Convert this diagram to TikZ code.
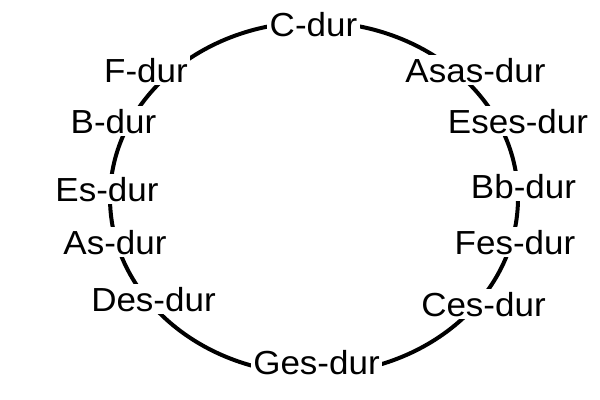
\documentclass[tikz,border=0pt]{standalone}
\usepackage{fontspec}
\setmainfont{Liberation Sans}
\usetikzlibrary{positioning}

\newcommand{\breit}[1]{\scalebox{1.05}[1]{#1}}

\tikzset{
  kreis/.style={line width=3pt},
  tonart/.style={fill=white, inner sep=2pt, anchor=base, font=\fontsize{25}{30}\selectfont}
}

\begin{document}
\begin{tikzpicture}[x=0.75pt, y=-0.75pt]
    \useasboundingbox (0,0) rectangle (600,400);
    \draw[kreis] (314,198) ellipse [x radius=204, y radius=176];

    % linke Seite
    \node[tonart] (C) at (313.5,36) {\breit{C-dur}};
    \node[tonart] (F) at (146,82) {\breit{F-dur}};
    \node[tonart] (B) at (113.5,133) {\breit{B-dur}};
    \node[tonart] (Es) at (107,201) {\breit{Es-dur}};
    \node[tonart] (As) at (115,254) {\breit{As-dur}};
    \node[tonart] (Des) at (153.5,311) {\breit{Des-dur}};
    \node[tonart] (Ges) at (316.5,374) {\breit{Ges-dur}};

    % rechte Seite
    \node[tonart] (Asas) at (475.5,82) {\breit{Asas-dur}};
    \node[tonart] (Eses) at (518,133) {\breit{Eses-dur}};
    \node[tonart] (Bb) at (523.5,198) {\breit{Bb-dur}};
    \node[tonart] (Fes) at (515,254) {\breit{Fes-dur}};
    \node[tonart] (Ces) at (483.5,316) {\breit{Ces-dur}};
\end{tikzpicture}
\end{document}
